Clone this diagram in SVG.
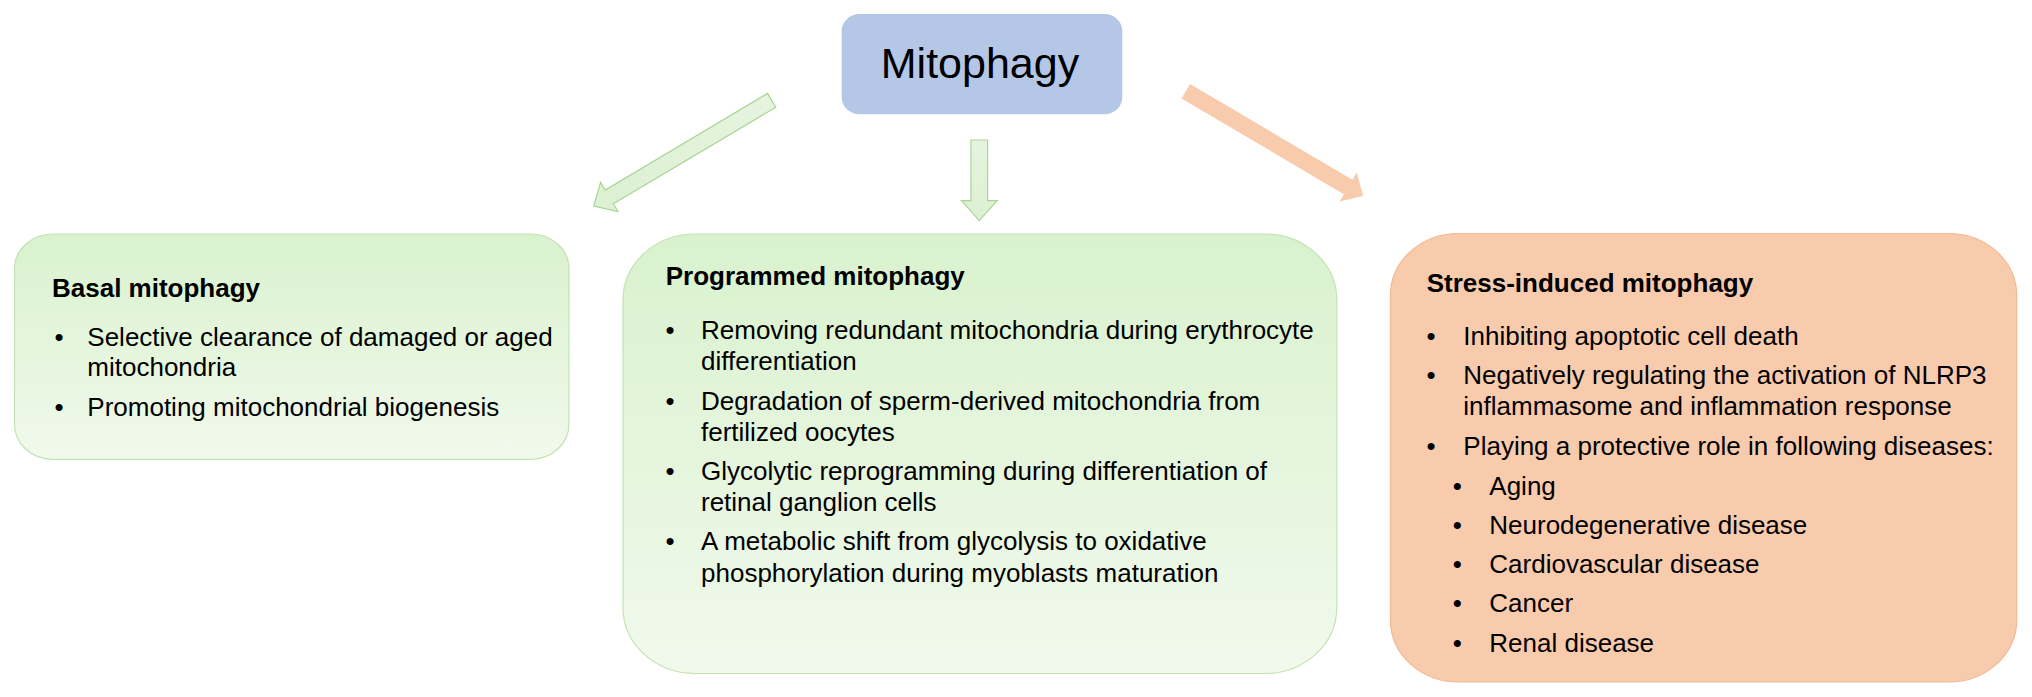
<svg xmlns="http://www.w3.org/2000/svg" width="2032" height="697" viewBox="0 0 2032 697">
  <defs>
    <linearGradient id="gBox" x1="0" y1="0" x2="0" y2="1">
      <stop offset="0" stop-color="#d9f2ce"/>
      <stop offset="1" stop-color="#f1f9ec"/>
    </linearGradient>
    <linearGradient id="gArrow" x1="0" y1="0" x2="1" y2="0">
      <stop offset="0" stop-color="#e6f4df"/>
      <stop offset="1" stop-color="#dcf0d2"/>
    </linearGradient>
  </defs>
  <style>
    .t { font-family: "Liberation Sans", Arial, sans-serif; font-size: 26px; fill: #000; }
    .b { font-weight: bold; }
    .bul { text-anchor: middle; }
    .green { fill: url(#gBox); stroke: #c4e2b2; stroke-width: 1.2; }
    .garrow { fill: url(#gArrow); stroke: #a9d695; stroke-width: 1.2; stroke-linejoin: miter; }
    .oarrow { fill: #f8cbad; stroke: none; }
  </style>
  <rect width="2032" height="697" fill="#ffffff"/>

  <g id="connectors">
    <polygon class="garrow" transform="translate(771.7,100.3) rotate(149.25)" points="0,-8 189,-8 189,-17 207,0 189,17 189,8 0,8"/>
    <polygon class="garrow" transform="translate(979.3,140) rotate(90)" points="0,-8.3 60.7,-8.3 60.7,-17.8 80.7,0 60.7,17.8 60.7,8.3 0,8.3"/>
    <polygon class="oarrow" transform="translate(1185.8,91.2) rotate(30.56)" points="0,-8.4 188.5,-8.4 188.5,-16.8 206,0 188.5,16.8 188.5,8.4 0,8.4"/>
  </g>

  <g id="mitophagy">
    <rect x="841.7" y="14" width="280.6" height="100.3" rx="18" ry="17" fill="#b4c7e7"/>
    <text class="t" x="980" y="78" text-anchor="middle" style="font-size:43px">Mitophagy</text>
  </g>

  <g id="basal">
    <rect class="green" x="14.5" y="234" width="554.5" height="225.3" rx="38" ry="35"/>
    <text class="t b" x="52" y="297.3">Basal mitophagy</text>
    <text class="t bul" x="59" y="346">•</text>
    <text class="t" x="87.3" y="346">Selective clearance of damaged or aged</text>
    <text class="t" x="87.3" y="375.5">mitochondria</text>
    <text class="t bul" x="59" y="416">•</text>
    <text class="t" x="87.3" y="416">Promoting mitochondrial biogenesis</text>
  </g>

  <g id="programmed">
    <rect class="green" x="623" y="234" width="713.8" height="439.5" rx="72" ry="66"/>
    <text class="t b" x="665.7" y="285">Programmed mitophagy</text>
    <text class="t bul" x="670" y="339.3">•</text>
    <text class="t" x="701" y="339.3">Removing redundant mitochondria during erythrocyte</text>
    <text class="t" x="701" y="370">differentiation</text>
    <text class="t bul" x="670" y="410">•</text>
    <text class="t" x="701" y="410">Degradation of sperm-derived mitochondria from</text>
    <text class="t" x="701" y="440.7">fertilized oocytes</text>
    <text class="t bul" x="670" y="480">•</text>
    <text class="t" x="701" y="480">Glycolytic reprogramming during differentiation of</text>
    <text class="t" x="701" y="510.7">retinal ganglion cells</text>
    <text class="t bul" x="670" y="550">•</text>
    <text class="t" x="701" y="550">A metabolic shift from glycolysis to oxidative</text>
    <text class="t" x="701" y="581.7">phosphorylation during myoblasts maturation</text>
  </g>

  <g id="stress">
    <rect x="1390.4" y="233.5" width="626.3" height="448.5" rx="68" ry="62" fill="#f8cbad" stroke="#f2b994" stroke-width="1.2"/>
    <text class="t b" x="1426.7" y="292.3">Stress-induced mitophagy</text>
    <text class="t bul" x="1431" y="345">•</text>
    <text class="t" x="1463.3" y="345">Inhibiting apoptotic cell death</text>
    <text class="t bul" x="1431" y="384">•</text>
    <text class="t" x="1463.3" y="384">Negatively regulating the activation of NLRP3</text>
    <text class="t" x="1463.3" y="415">inflammasome and inflammation response</text>
    <text class="t bul" x="1431" y="455">•</text>
    <text class="t" x="1463.3" y="455">Playing a protective role in following diseases:</text>
    <text class="t bul" x="1457.3" y="495">•</text>
    <text class="t" x="1489.3" y="495">Aging</text>
    <text class="t bul" x="1457.3" y="534">•</text>
    <text class="t" x="1489.3" y="534">Neurodegenerative disease</text>
    <text class="t bul" x="1457.3" y="573.3">•</text>
    <text class="t" x="1489.3" y="573.3">Cardiovascular disease</text>
    <text class="t bul" x="1457.3" y="612.3">•</text>
    <text class="t" x="1489.3" y="612.3">Cancer</text>
    <text class="t bul" x="1457.3" y="651.7">•</text>
    <text class="t" x="1489.3" y="651.7">Renal disease</text>
  </g>
</svg>
